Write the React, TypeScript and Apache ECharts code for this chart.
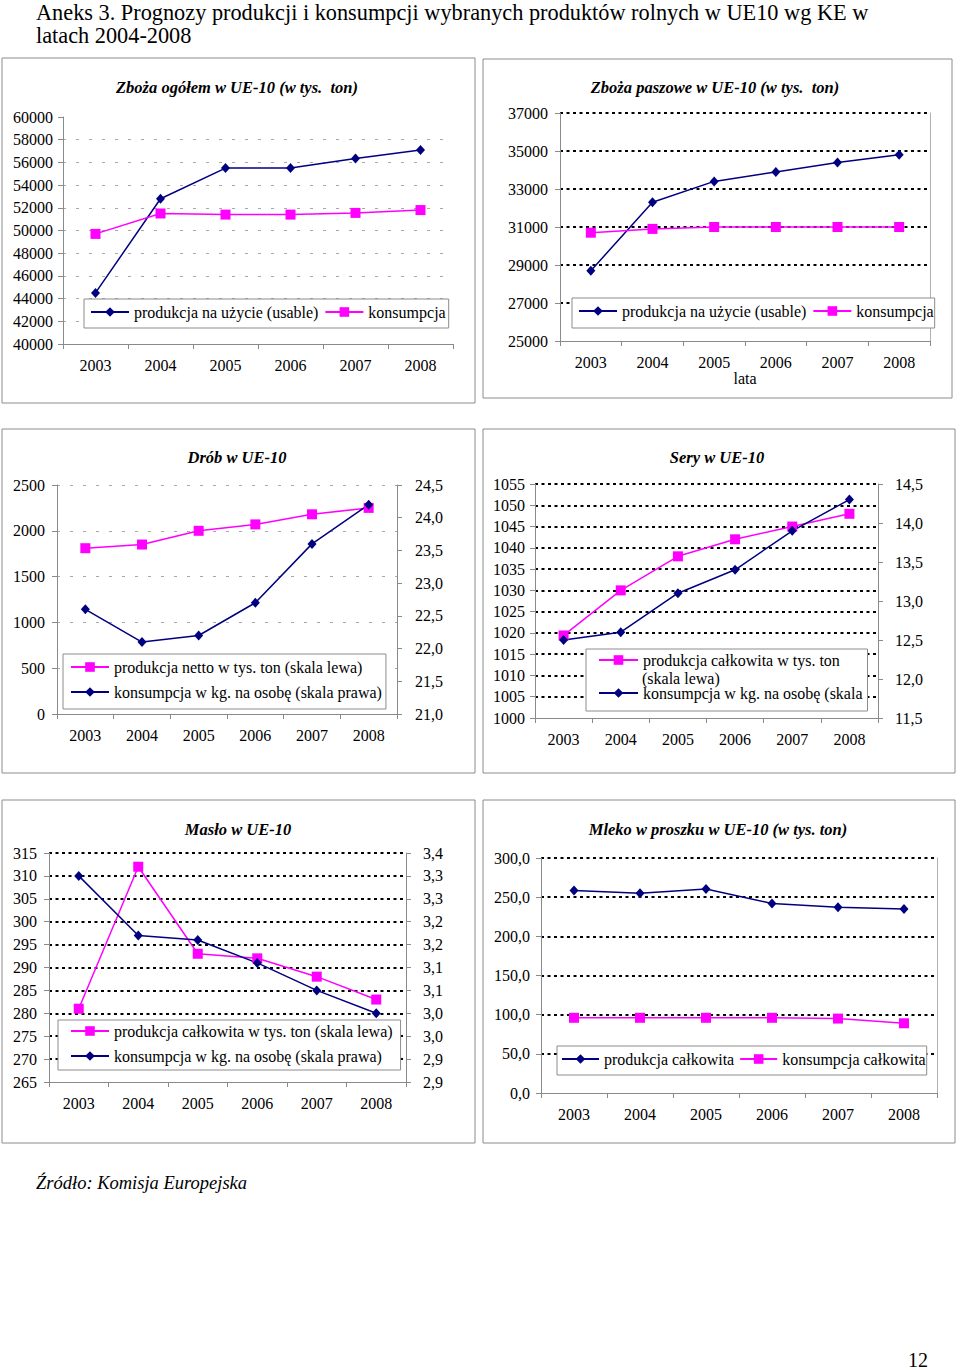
import React, { useEffect, useRef } from 'react';
import * as echarts from 'echarts';

// ---------- data ----------
const years = ['2003', '2004', '2005', '2006', '2007', '2008'];

// Zboża ogółem (tys. ton)
const zbozaProd = [44500, 52800, 55500, 55500, 56350, 57100];
const zbozaKons = [49700, 51500, 51400, 51400, 51550, 51800];
// Zboża paszowe (tys. ton)
const paszProd = [28700, 32300, 33400, 33900, 34400, 34800];
const paszKons = [30700, 30900, 31000, 31000, 31000, 31000];
// Drób
const drobProd = [1810, 1850, 2000, 2070, 2180, 2250];
const drobKons = [22.6, 22.1, 22.2, 22.7, 23.6, 24.2];
// Sery
const seryProd = [1019.4, 1030, 1038, 1042, 1045, 1048];
const seryKons = [12.5, 12.6, 13.1, 13.4, 13.9, 14.3];
// Masło
const masloProd = [281, 312, 293, 292, 288, 283];
const masloKons = [3.3, 3.17, 3.16, 3.11, 3.05, 3.0];
// Mleko w proszku
const mlekoProd = [258.5, 255, 260.5, 242, 237, 235];
const mlekoKons = [96, 96, 96, 96, 95, 89];

// ---------- styles ----------
const FONT = '"Liberation Serif", "Times New Roman", serif';
const FS = 16;
const AX = '#8a8a8a';
const NAVY = '#000080';
const MAG = '#ff00ff';

const fmtPlain = (v: number) => String(Math.round(v));
const fmtComma = (v: number) => (Math.round(v * 10 + 1e-6) / 10).toFixed(1).replace('.', ',');

const dashGrey = { show: true, showMinLine: false, lineStyle: { color: '#a8a8a8', width: 1, type: [3, 10] } };
const dotBlack = { show: true, showMinLine: false, lineStyle: { color: '#000', width: 2, type: [3, 3.5] } };

function catAxis(gridIndex: number, extra: any = {}) {
  return {
    type: 'category',
    gridIndex,
    data: years,
    boundaryGap: true,
    axisLine: { lineStyle: { color: AX, width: 1 } },
    axisTick: { show: true, length: 5, lineStyle: { color: AX } },
    axisLabel: { color: '#000', fontFamily: FONT, fontSize: FS, margin: 13 },
    splitLine: { show: false },
    ...extra,
  };
}

function valAxis(
  gridIndex: number,
  min: number,
  max: number,
  interval: number,
  fmt: (v: number) => string,
  split: any,
  position: 'left' | 'right',
  margin: number,
  extra: any = {}
) {
  return {
    type: 'value',
    gridIndex,
    min,
    max,
    interval,
    position,
    axisLine: { show: true, lineStyle: { color: AX, width: 1 } },
    axisTick: { show: true, length: 5, lineStyle: { color: AX } },
    axisLabel: { color: '#000', fontFamily: FONT, fontSize: FS, margin, formatter: fmt },
    splitLine: split,
    ...extra,
  };
}

function borderAxis(gridIndex: number, min: number, max: number) {
  return {
    type: 'value',
    gridIndex,
    min,
    max,
    position: 'right',
    axisLine: { show: true, lineStyle: { color: '#b0b0b0', width: 1 } },
    axisTick: { show: false },
    axisLabel: { show: false },
    splitLine: { show: false },
  };
}

function lineSeries(name: string, data: number[], color: string, symbol: string, axisIdx: number, yIdx: number) {
  return {
    type: 'line',
    name,
    data,
    xAxisIndex: axisIdx,
    yAxisIndex: yIdx,
    symbol,
    symbolSize: symbol === 'rect' ? 10 : [9, 10],
    showSymbol: true,
    lineStyle: { color, width: 1.5 },
    itemStyle: { color },
    silent: true,
  };
}

const stripName = (n: string) => n.replace(/#\d+$/, '');

function legend(names: string[], left: number, top: number, orient: string, padding: number[], itemGap: number, itemWidth: number) {
  return {
    data: names,
    left,
    top,
    orient,
    padding,
    itemGap,
    itemWidth,
    itemHeight: 12,
    selectedMode: false,
    backgroundColor: '#fff',
    borderColor: '#8c8c8c',
    borderWidth: 1,
    borderRadius: 0,
    formatter: stripName,
    textStyle: { color: '#000', fontFamily: FONT, fontSize: FS },
  };
}

// series names
const N1a = 'produkcja na użycie (usable)';
const N1b = 'konsumpcja';
const N2a = 'produkcja na użycie (usable)#2';
const N2b = 'konsumpcja#2';
const N3a = 'produkcja netto w tys. ton (skala lewa)';
const N3b = 'konsumpcja w kg. na osobę (skala prawa)';
const N4a = 'produkcja całkowita w tys. ton';
const N4b = 'konsumpcja w kg. na osobę (skala';
const N5a = 'produkcja całkowita w tys. ton (skala lewa)';
const N5b = 'konsumpcja w kg. na osobę (skala prawa)#5';
const N6a = 'produkcja całkowita';
const N6b = 'konsumpcja całkowita';

function box(x: number, y: number, w: number, h: number) {
  return {
    type: 'rect',
    shape: { x, y, width: w, height: h },
    style: { fill: 'none', stroke: '#8c8c8c', lineWidth: 1 },
    silent: true,
  };
}

function txt(text: string, x: number, y: number, font: string, align = 'center') {
  return {
    type: 'text',
    x,
    y,
    z: 100,
    zlevel: 0,
    silent: true,
    style: { text, font, fill: '#000', textAlign: align, textVerticalAlign: 'middle' },
  };
}

const TITLE_FONT = `italic bold 16.5px ${FONT}`;

const option: any = {
  animation: false,
  backgroundColor: '#fff',
  grid: [
    { left: 63, top: 117, width: 390, height: 227 },
    { left: 560, top: 113, width: 370, height: 228 },
    { left: 57, top: 485, width: 340, height: 229 },
    { left: 535, top: 484, width: 343, height: 234 },
    { left: 49, top: 853, width: 357, height: 229 },
    { left: 541, top: 858, width: 396, height: 235 },
  ],
  xAxis: [
    catAxis(0),
    catAxis(1, {
      name: 'lata',
      nameLocation: 'middle',
      nameGap: 26,
      nameTextStyle: { color: '#000', fontFamily: FONT, fontSize: FS },
    }),
    catAxis(2),
    catAxis(3),
    catAxis(4),
    catAxis(5),
  ],
  yAxis: [
    // 0: chart 1
    valAxis(0, 40000, 60000, 2000, fmtPlain, { ...dashGrey, showMaxLine: false }, 'left', 10),
    // 1: chart 2
    valAxis(1, 25000, 37000, 2000, fmtPlain, dotBlack, 'left', 12),
    // 2: chart 2 right border
    borderAxis(1, 25000, 37000),
    // 3: chart 3 left
    valAxis(2, 0, 2500, 500, fmtPlain, dashGrey, 'left', 12),
    // 4: chart 3 right
    valAxis(2, 21, 24.5, 0.5, fmtComma, { show: false }, 'right', 18),
    // 5: chart 4 left
    valAxis(3, 1000, 1055, 5, fmtPlain, dotBlack, 'left', 10),
    // 6: chart 4 right
    valAxis(3, 11.5, 14.5, 0.5, fmtComma, { show: false }, 'right', 17),
    // 7: chart 5 left
    valAxis(4, 265, 315, 5, fmtPlain, dotBlack, 'left', 12),
    // 8: chart 5 right
    valAxis(4, 2.85, 3.35, 0.05, fmtComma, { show: false }, 'right', 17),
    // 9: chart 6
    valAxis(5, 0, 300, 50, fmtComma, dotBlack, 'left', 11),
    // 10: chart 6 right border
    borderAxis(5, 0, 300),
  ],
  legend: [
    legend([N1a, N1b], 84, 299, 'horizontal', [5, 3, 8, 6], 6, 38),
    legend([N2a, N2b], 572, 298, 'horizontal', [5, 1, 9, 6], 6, 38),
    legend([N3a, N3b], 63, 654, 'vertical', [5, 4, 9, 7], 9, 38),
    legend([N4a, N4b], 586, 649, 'vertical', [3, 5, 10, 12], 17, 39),
    legend([N5a, N5b], 58, 1020, 'vertical', [3, 8, 6, 12], 9, 38),
    legend([N6a, N6b], 557, 1046, 'horizontal', [5, 1, 8, 4], 5, 37),
  ],
  series: [
    lineSeries(N1a, zbozaProd, NAVY, 'diamond', 0, 0),
    lineSeries(N1b, zbozaKons, MAG, 'rect', 0, 0),
    lineSeries(N2a, paszProd, NAVY, 'diamond', 1, 1),
    lineSeries(N2b, paszKons, MAG, 'rect', 1, 1),
    lineSeries(N3a, drobProd, MAG, 'rect', 2, 3),
    lineSeries(N3b, drobKons, NAVY, 'diamond', 2, 4),
    lineSeries(N4a, seryProd, MAG, 'rect', 3, 5),
    lineSeries(N4b, seryKons, NAVY, 'diamond', 3, 6),
    lineSeries(N5a, masloProd, MAG, 'rect', 4, 7),
    lineSeries(N5b, masloKons, NAVY, 'diamond', 4, 8),
    lineSeries(N6a, mlekoProd, NAVY, 'diamond', 5, 9),
    lineSeries(N6b, mlekoKons, MAG, 'rect', 5, 9),
  ],
  graphic: {
    elements: [
      box(2, 58, 473, 345),
      box(483, 59, 469, 339),
      box(2, 429, 473, 344),
      box(483, 429, 472, 344),
      box(2, 800, 473, 343),
      box(483, 800, 472, 343),
      txt('Aneks 3. Prognozy produkcji i konsumpcji wybranych produktów rolnych w UE10 wg KE w', 36, 12, `22.3px ${FONT}`, 'left'),
      txt('latach 2004-2008', 36, 35, `22.3px ${FONT}`, 'left'),
      txt('Zboża ogółem w UE-10 (w tys.  ton)', 237, 87, TITLE_FONT),
      txt('Zboża paszowe w UE-10 (w tys.  ton)', 715, 87, TITLE_FONT),
      txt('Drób w UE-10', 237, 457, TITLE_FONT),
      txt('Sery w UE-10', 717, 457, TITLE_FONT),
      txt('Masło w UE-10', 238, 829, TITLE_FONT),
      txt('Mleko w proszku w UE-10 (w tys. ton)', 718, 829, TITLE_FONT),
      txt('(skala lewa)', 642, 678, `${FS}px ${FONT}`, 'left'),
      txt('Źródło: Komisja Europejska', 36, 1183, `italic 18.5px ${FONT}`, 'left'),
      txt('12', 918, 1360, `20px ${FONT}`),
    ],
  },
};

export default function App() {
  const ref = useRef<HTMLDivElement>(null);
  useEffect(() => {
    if (!ref.current) return;
    const chart = echarts.init(ref.current, null, { renderer: 'svg' });
    chart.setOption(option);
    return () => chart.dispose();
  }, []);
  return (
    <div
      ref={ref}
      style={{ position: 'absolute', left: 0, top: 0, width: 960, height: 1370, background: '#fff' }}
    />
  );
}
